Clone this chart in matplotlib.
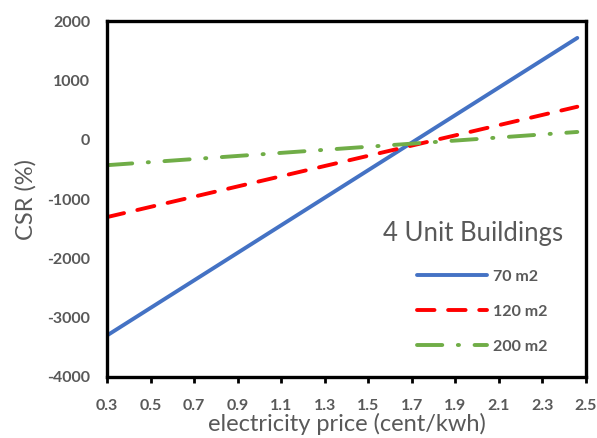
import matplotlib.pyplot as plt

# electricity price (cent/kwh), line end points
price = [0.3, 2.46]
csr_70 = [-3300, 1715]
csr_120 = [-1305, 555]
csr_200 = [-430, 130]

xticks = [0.3, 0.5, 0.7, 0.9, 1.1, 1.3, 1.5, 1.7, 1.9, 2.1, 2.3, 2.5]
yticks = [-4000, -3000, -2000, -1000, 0, 1000, 2000]

gray = '#595959'
plt.rcParams['font.family'] = ['Lato', 'DejaVu Sans']
plt.rcParams['axes.unicode_minus'] = False

fig = plt.figure(figsize=(5.97, 4.38), dpi=100)
ax = fig.add_axes([107/597, 1 - 377/438, (586-107)/597, (377-21)/438])

lw = 2.8
ax.plot(price, csr_70, color='#4472C4', lw=lw, solid_capstyle='round', label='70 m2')
ax.plot(price, csr_120, color='#FF0000', lw=lw, dashes=(4.5, 3.5),
        dash_capstyle='round', label='120 m2')
ax.plot(price, csr_200, color='#70AD47', lw=lw, dashes=(6.5, 4, 0.3, 4),
        dash_capstyle='round', label='200 m2')

ax.set_xlim(0.3, 2.5)
ax.set_ylim(-4000, 2000)
ax.set_xticks(xticks)
ax.set_xticklabels([str(t) for t in xticks])
ax.set_yticks(yticks)
ax.tick_params(axis='x', direction='out', length=4, width=2, colors='black',
               labelcolor=gray, labelsize=11.5, pad=12)
ax.tick_params(axis='y', length=0, labelcolor=gray, labelsize=11.5, pad=12)
for lab in ax.get_xticklabels() + ax.get_yticklabels():
    lab.set_fontweight('bold')

for s in ax.spines.values():
    s.set_linewidth(2.4)
    s.set_color('black')

ax.set_xlabel('electricity price (cent/kwh)', fontsize=17, color=gray, labelpad=0)
ax.set_ylabel('CSR (%)', fontsize=17, color=gray, labelpad=8)

# legend title placed on its own (it sticks out past the entries)
fig.text(563/597, 1 - 234/438, '4 Unit Buildings', fontsize=18.5, color=gray,
         ha='right', va='center')

leg = ax.legend(loc='lower right', bbox_to_anchor=(0.95, 0.025), frameon=False,
                handlelength=4.4, labelspacing=1.3,
                prop={'size': 11.5, 'weight': 'bold'}, handletextpad=0.4)
for t in leg.get_texts():
    t.set_color(gray)

fig.savefig('out.png', dpi=100)
